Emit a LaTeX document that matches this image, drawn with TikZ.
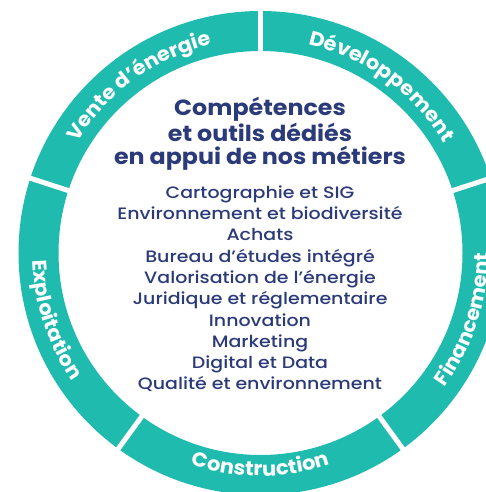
\documentclass[tikz,border=0pt]{standalone}
\usepackage{fontspec}
\setmainfont{Poppins}
\newfontfamily\titlefont{Poppins}[FakeStretch=1.08]
\IfFontExistsTF{Poppins Medium}{\newfontfamily\listfont{Poppins Medium}[FakeStretch=1.15]}{\newfontfamily\listfont{Poppins}[FakeStretch=1.15]}
\newfontfamily\ringfont{Poppins}[FakeStretch=1.05]
\usetikzlibrary{decorations.text}
\definecolor{ringteal}{HTML}{1EBBAE}
\definecolor{inkblue}{HTML}{2B3A78}
\newcommand{\ringtext}{\ringfont\bfseries\fontsize{20}{20}\selectfont}
\tikzset{
  titleline/.style={anchor=base, inner sep=0pt, text=inkblue, font=\titlefont\bfseries\fontsize{22}{22}\selectfont},
  listitem/.style={anchor=base, inner sep=0pt, text=inkblue, font=\listfont\fontsize{16.5}{16.5}\selectfont},
  ringlabel/.style={decorate, decoration={text along path, text align=center, text color=white, text={|\ringtext|#1}}}
}
\begin{document}
\begin{tikzpicture}[x=1pt,y=1pt]
\useasboundingbox (0,0) rectangle (486,492);
\clip (0,0) rectangle (486,492);
\coordinate (c) at (260.5,239);
% ring
\draw[ringteal, line width=40pt] (c) circle[radius=222];
\foreach \a in {90,18,-54,-126,162}
  \draw[white, line width=5pt] (c) ++(\a:190) -- ++(\a:70);
% ring labels
\path[ringlabel={Développement}] (c) ++(100:214) arc[start angle=100, end angle=8, radius=214];
\path[ringlabel={Vente d’énergie}] (c) ++(172:214) arc[start angle=172, end angle=80, radius=214];
\path[ringlabel={Exploitation}] (c) ++(152:228) arc[start angle=152, end angle=244, radius=228];
\path[ringlabel={Construction}] (c) ++(224:223) arc[start angle=224, end angle=316, radius=223];
\path[ringlabel={Financement}] (c) ++(296:228) arc[start angle=296, end angle=388, radius=228];
% title
\node[titleline] (title1) at (260,376) {Compétences};
\node[titleline] (title2) at (260,350.3) {et outils dédiés};
\node[titleline] (title3) at (260,327) {en appui de nos métiers};
% list
\foreach \t [count=\i from 0] in {Cartographie et SIG, Environnement et biodiversité, Achats, Bureau d’études intégré, Valorisation de l’énergie, Juridique et réglementaire, Innovation, Marketing, Digital et Data, Qualité et environnement}
  \node[listitem] (item\i) at (260, 293.7-21.3*\i) {\t};
\end{tikzpicture}
\end{document}
